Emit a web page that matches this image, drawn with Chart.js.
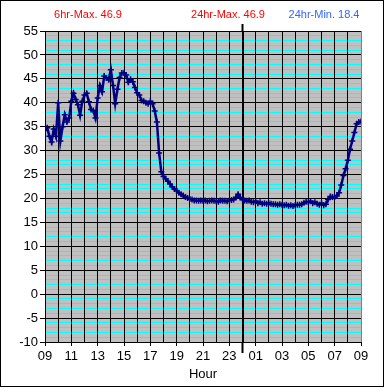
<!DOCTYPE html>
<html>
<head>
<meta charset="utf-8">
<script src="https://cdn.jsdelivr.net/npm/chart.js@4.4.1/dist/chart.umd.min.js"></script>
<style>
  body { margin: 0; background: #fff; }
  canvas { display: block; }
</style>
</head>
<body>
<canvas id="chart" width="385" height="388"></canvas>
<script>
// readings every 10 minutes, starting 09:00, over 24 hours
const startHour = 9;
const stepMinutes = 10;
const temps = [
  34.2, 34.8, 33.0, 31.8, 34.5, 33.0, 40.0, 32.0, 35.0, 37.5, 36.0, 36.8,
  40.3, 42.0, 40.7, 39.6, 37.4, 40.3, 41.6, 42.0, 40.2, 38.6, 38.4, 36.8,
  41.0, 43.6, 42.3, 45.6, 45.2, 44.8, 46.9, 43.6, 39.8, 42.8, 45.3, 46.2,
  46.3, 45.8, 44.3, 44.9, 44.4, 43.2, 42.1, 41.6, 40.5, 40.3, 40.0, 39.8,
  40.3, 39.8, 38.3, 36.0, 29.5, 25.6, 24.6, 24.1, 23.6, 23.0, 22.4, 22.0,
  21.6, 21.2, 20.9, 20.6, 20.3, 20.1, 19.9, 19.8, 19.6, 19.6, 19.5, 19.6,
  19.5, 19.6, 19.4, 19.5, 19.6, 19.5, 19.4, 19.3, 19.6, 19.5, 19.5, 19.4,
  19.6, 19.7, 19.8, 20.2, 20.9, 20.2, 19.8, 19.6, 19.5, 19.6, 19.3, 19.2,
  19.4, 19.0, 19.2, 18.9, 19.0, 18.9, 19.0, 18.9, 18.8, 18.8, 18.7, 18.8,
  18.7, 18.6, 18.7, 18.5, 18.6, 18.4, 18.6, 18.7, 18.7, 18.8, 19.1, 19.3,
  19.2, 19.4, 19.0, 19.2, 18.9, 18.7, 19.0, 18.6, 18.8, 19.8, 20.4, 20.3,
  20.3, 20.5, 21.2, 22.8, 24.8, 26.2, 28.0, 30.3, 32.0, 33.8, 35.6, 36.0,
  36.1
];
const headers = ['6hr-Max. 46.9', '24hr-Max. 46.9', '24hr-Min. 18.4'];
const headerColors = ['#ff0000', '#ff0000', '#3366ff'];
const midnight = 24 - startHour; // hours after start

const points = temps.map((t, i) => ({ x: i * stepMinutes / 60, y: t }));

const frame = {
  id: 'frame',
  beforeDraw(chart) {
    const { ctx, chartArea: a } = chart;
    ctx.save();
    ctx.fillStyle = '#fff';
    ctx.fillRect(0, 0, chart.width, chart.height);
    ctx.fillStyle = '#c0c0c0';
    ctx.fillRect(a.left, a.top, a.right - a.left, a.bottom - a.top);
    ctx.restore();
  },
  afterDraw(chart) {
    const { ctx, chartArea: a } = chart;
    ctx.save();
    // midnight marker sticks out of the plot
    const mx = chart.scales.x.getPixelForValue(midnight);
    ctx.strokeStyle = '#000';
    ctx.lineWidth = 2;
    ctx.beginPath();
    ctx.moveTo(mx, a.top - 7);
    ctx.lineTo(mx, a.top);
    ctx.moveTo(mx, a.bottom);
    ctx.lineTo(mx, a.bottom + 11);
    ctx.stroke();
    // headers
    ctx.font = '11px "Liberation Sans", Arial, sans-serif';
    ctx.textAlign = 'center';
    ctx.textBaseline = 'middle';
    const cx = [88, 228, 324];
    headers.forEach((h, i) => {
      ctx.fillStyle = headerColors[i];
      ctx.fillText(h, cx[i], 15);
    });
    // outer border
    ctx.strokeStyle = '#000';
    ctx.lineWidth = 1;
    ctx.strokeRect(0.5, 0.5, 383, 386);
    ctx.restore();
  }
};

new Chart(document.getElementById('chart'), {
  type: 'scatter',
  data: {
    datasets: [{
      data: points,
      showLine: true,
      borderColor: '#000080',
      backgroundColor: '#000080',
      borderWidth: 2.5,
      pointStyle: 'cross',
      pointRadius: 3,
      pointBorderWidth: 1.5,
      pointHoverRadius: 3
    }]
  },
  options: {
    responsive: false,
    animation: false,
    devicePixelRatio: 1,
    layout: { padding: { top: 31, right: 24, bottom: 0, left: 0 } },
    plugins: { legend: { display: false }, tooltip: { enabled: false } },
    scales: {
      x: {
        type: 'linear',
        min: 0,
        max: 24,
        afterFit: s => { s.height = 46; },
        border: { display: false },
        grid: {
          z: -1,
          color: c => c.tick && c.tick.value === 24 ? '#808080' : '#000',
          lineWidth: c => c.tick && c.tick.value === midnight ? 2 : 1,
          tickLength: 4,
          tickColor: c => c.tick && c.tick.value % 2 === 0 ? '#000' : 'rgba(0,0,0,0)'
        },
        ticks: {
          stepSize: 1,
          autoSkip: false,
          maxRotation: 0,
          padding: 3,
          color: '#000',
          font: { family: '"Liberation Sans", Arial, sans-serif', size: 13 },
          callback: v => v % 2 === 0 ? String((startHour + v) % 24).padStart(2, '0') : ''
        },
        title: {
          display: true,
          text: 'Hour',
          color: '#000',
          font: { family: '"Liberation Sans", Arial, sans-serif', size: 13 },
          padding: { top: 0, bottom: 6 }
        }
      },
      y: {
        min: -10,
        max: 55,
        afterFit: s => { s.width = 45; },
        border: { display: false },
        grid: {
          z: -2,
          color: c => c.tick && c.tick.value % 5 === 0 ? '#000' : '#00ffff',
          tickLength: 5,
          tickColor: c => c.tick && c.tick.value % 5 === 0 ? '#000' : 'rgba(0,0,0,0)'
        },
        ticks: {
          stepSize: 1,
          autoSkip: false,
          padding: 2,
          color: '#000',
          font: { family: '"Liberation Sans", Arial, sans-serif', size: 13 },
          callback: v => v % 5 === 0 ? String(v) : ''
        }
      }
    }
  },
  plugins: [frame]
});
</script>
</body>
</html>
